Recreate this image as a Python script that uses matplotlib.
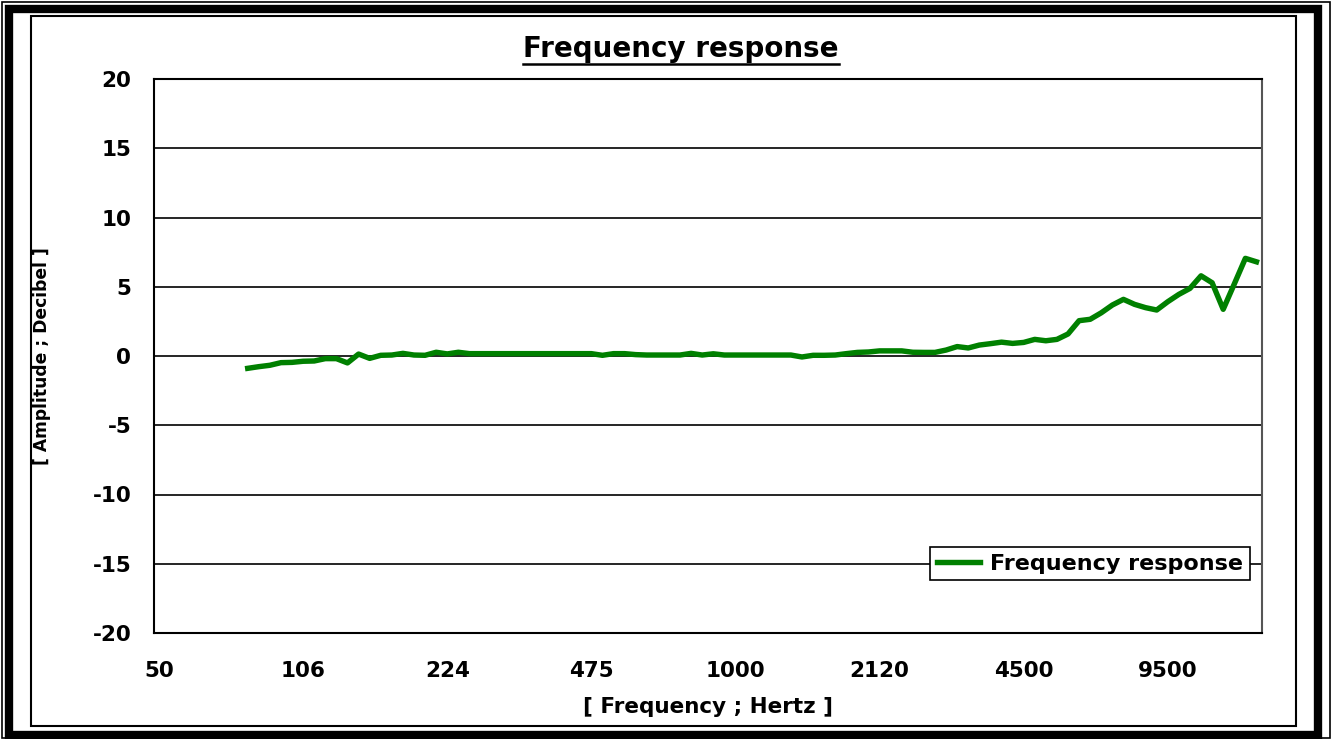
import numpy as np
import matplotlib
matplotlib.use('Agg')
import matplotlib.pyplot as plt
from matplotlib.patches import Rectangle
from matplotlib.lines import Line2D

plt.rcParams['axes.unicode_minus'] = False

# 100 categories on a 1/12-octave grid, labelled every 13th one
n_categories = 100
label_every = 13
tick_labels = ['50', '106', '224', '475', '1000', '2120', '4500', '9500']

# measured response starts at category 8 (~80 Hz)
first_category = 8
response_db = [
    -0.89, -0.77, -0.67, -0.48, -0.46, -0.38, -0.36, -0.19, -0.19, -0.50,
    0.14, -0.17, 0.05, 0.07, 0.19, 0.07, 0.05, 0.27, 0.15, 0.27,
    0.17, 0.17, 0.17, 0.17, 0.17, 0.17, 0.17, 0.17, 0.17, 0.17,
    0.17, 0.17, 0.05, 0.17, 0.17, 0.10, 0.07, 0.07, 0.07, 0.07,
    0.19, 0.07, 0.16, 0.07, 0.07, 0.07, 0.07, 0.07, 0.07, 0.07,
    -0.07, 0.05, 0.05, 0.07, 0.17, 0.26, 0.29, 0.37, 0.37, 0.37,
    0.27, 0.26, 0.26, 0.43, 0.68, 0.58, 0.79, 0.89, 1.00, 0.91,
    0.98, 1.20, 1.10, 1.20, 1.59, 2.55, 2.65, 3.12, 3.68, 4.09,
    3.73, 3.49, 3.32, 3.92, 4.45, 4.88, 5.79, 5.29, 3.37, 5.20,
    7.05, 6.80,
]

W, H = 1332, 739
fig = plt.figure(figsize=(W / 100, H / 100), dpi=100)
fig.patch.set_facecolor('white')

# plot area
ax = fig.add_axes([153.5 / W, 1 - 633 / H, (1262 - 153.5) / W, (633 - 79) / H])

x = np.arange(first_category, first_category + len(response_db))
ax.plot(x, response_db, color='#008000', lw=3.9, solid_joinstyle='round',
        label='Frequency response', zorder=3)

ax.set_xlim(-0.5, n_categories - 0.5)
ax.set_ylim(-20, 20)
ax.set_yticks(np.arange(-20, 21, 5))
ax.set_xticks(np.arange(0, n_categories, label_every)[:len(tick_labels)])
ax.set_xticklabels(tick_labels)

ax.yaxis.grid(True, color='black', lw=1.2)
ax.set_axisbelow(True)
ax.tick_params(length=0, labelsize=15.5)
ax.tick_params(axis='x', pad=20)
ax.tick_params(axis='y', pad=16)
for lab in ax.get_xticklabels() + ax.get_yticklabels():
    lab.set_fontweight('bold')
for s in ax.spines.values():
    s.set_linewidth(1.5)
    s.set_color('black')
ax.spines['right'].set_color('#555555')

ax.set_xlabel('[ Frequency ; Hertz ]', fontsize=15.5, fontweight='bold', labelpad=12)
ax.set_ylabel('[ Amplitude ; Decibel ]', fontsize=12.3, fontweight='bold')
ax.yaxis.set_label_coords((51 - 153.5) / (1262 - 153.5), 0.5)

leg = ax.legend(loc='center right', bbox_to_anchor=(1250 / W, 1 - 563.5 / H),
                bbox_transform=fig.transFigure, fancybox=False, framealpha=1,
                edgecolor='black', prop={'weight': 'bold', 'size': 16},
                handlelength=1.95, handletextpad=0.45, borderpad=0.3,
                borderaxespad=0)
leg.get_frame().set_linewidth(1.2)

# title with underline
title = fig.text(681 / W, 1 - 49 / H, 'Frequency response', ha='center', va='center',
                 fontsize=20, fontweight='bold')
fig.canvas.draw()
bb = title.get_window_extent()
fig.add_artist(Line2D([bb.x0 / W, bb.x1 / W], [(bb.y0 - 1) / H, (bb.y0 - 1) / H],
                      transform=fig.transFigure, color='black', lw=1.8))

# chart frame: thin outer, thick middle, thin inner
def frame(x0, y0, x1, y1, lw):
    fig.add_artist(Rectangle((x0 / W, 1 - y1 / H), (x1 - x0) / W, (y1 - y0) / H,
                             transform=fig.transFigure, fill=False,
                             edgecolor='black', lw=lw))

frame(1.5, 1.5, 1330, 737.5, 1.2)
frame(9, 8.5, 1318, 735, 6)
frame(31, 16, 1296, 726, 1.5)

fig.savefig('out.png', dpi=100)
